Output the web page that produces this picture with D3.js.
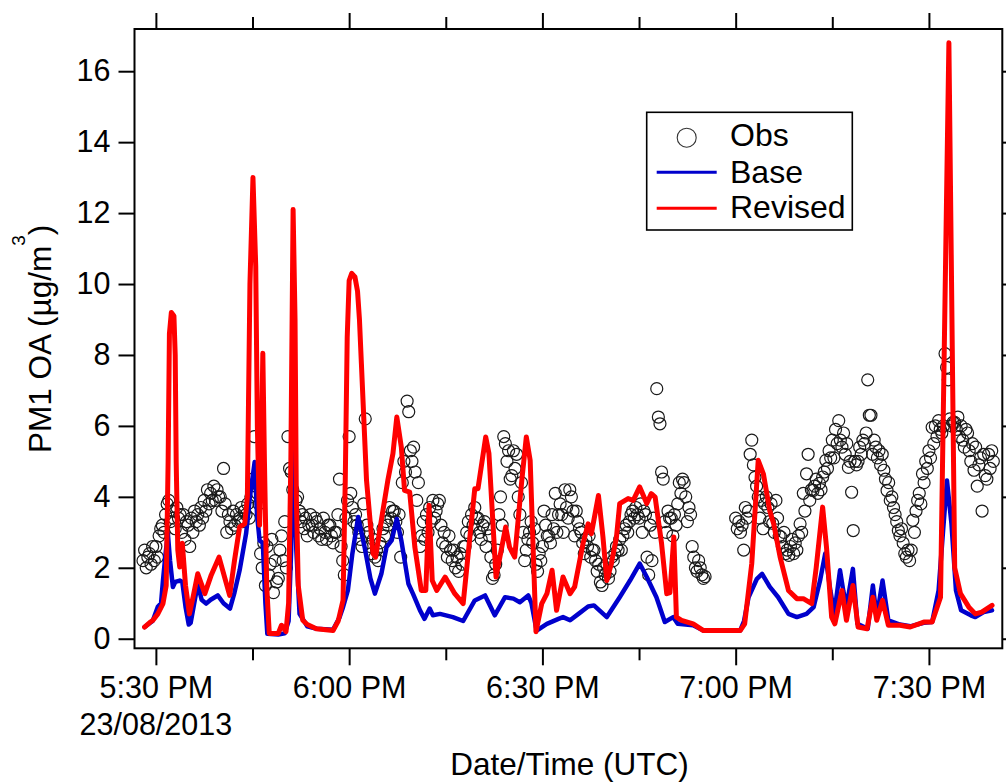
<!DOCTYPE html>
<html><head><meta charset="utf-8">
<script src="https://cdn.jsdelivr.net/npm/d3@7"></script>
<style>
body{margin:0;background:#fff}
svg{display:block}
text{font-family:"Liberation Sans",Arial,sans-serif;fill:#000}
</style>
</head><body>
<svg id="chart" width="1006" height="784"></svg>
<script>
// ---------------- DATA ----------------
// time reference: minutes after 17:30 UTC on 23/08/2013
const refTimeUTC = Date.UTC(2013, 7, 23, 17, 30, 0);
const xDomainMinutes = [-3.32, 131.39];
const yDomain = [-0.27, 17.19];
const yTickValues = [0, 2, 4, 6, 8, 10, 12, 14, 16];
const xMajorTickMinutes = [0, 30, 60, 90, 120];
const xMinorTickMinutes = [15, 45, 75, 105];
const firstTickDateLabel = "23/08/2013";
const seriesNames = ["Obs", "Base", "Revised"];

// observations: one value every 15 s starting at 17:28:00 UTC
const obsStartMinute = -2;
const obsStepSeconds = 15;
const obsValues = [
2.2,2.5,2.0,2.3, 2.4,2.1,2.6,2.2, 2.6,2.3,2.9,3.1, 3.2,3.0,3.5,3.8, 3.9,3.3,3.6,3.4,
3.1,3.7,3.4,3.5, 3.0,3.5,2.8,3.3, 3.2,2.6,3.4,3.0, 3.6,3.3,3.5,3.2, 3.7,3.4,3.9,3.6,
4.2,3.8,4.1,3.9, 4.3,3.9,4.2,4.0, 4.0,3.6,4.8,3.8, 3.0,3.5,3.3,3.1, 3.6,3.2,3.5,3.3,
3.4,3.7,3.3,3.6, 3.5,3.8,3.4,4.0, 4.5,5.7,4.4,4.1, 3.8,2.4,2.0,2.7, 1.5,2.6,1.8,2.1,
2.8,1.3,2.2,1.6, 1.7,2.5,2.9,2.2, 3.3,2.0,5.7,4.8, 4.7,4.2,3.5,3.9, 4.0,3.6,3.3,3.5,
3.1,3.4,2.9,3.2, 3.5,3.2,3.0,3.4, 3.3,2.9,3.1,2.8, 3.4,3.0,2.8,3.2, 3.2,2.9,2.7,3.0,
3.0,3.5,4.5,2.6, 2.2,1.8,3.4,3.9, 5.7,4.1,3.7,3.3, 3.5,3.2,3.0,2.8, 2.6,3.8,6.2,3.2,
3.0,2.6,2.4,2.8, 2.3,2.5,2.2,2.7, 2.6,3.1,2.9,3.3, 3.2,3.7,3.4,3.6, 3.6,3.3,3.0,3.5,
2.3,4.4,5.0,4.7, 6.7,6.4,5.3,5.0, 5.4,4.7,3.9,4.4, 2.6,2.9,3.3,2.8, 3.5,3.0,3.7,3.3,
3.9,3.4,3.6,3.8, 3.9,3.2,2.7,3.0, 2.6,2.3,2.9,2.5, 2.2,2.5,2.0,2.3, 1.9,2.4,2.1,2.6,
2.6,3.0,3.3,2.9, 3.5,3.2,3.7,3.4, 3.4,3.0,2.8,3.2, 3.3,2.6,3.1,2.9, 2.3,1.7,1.8,2.1,
2.5,3.5,4.0,3.2, 5.7,5.5,5.0,5.3, 4.5,4.6,5.3,4.8, 5.2,4.0,3.5,4.4, 3.0,2.2,2.5,2.8,
3.0,3.3,2.7,3.1, 2.1,1.9,2.4,2.2, 2.6,3.6,3.2,2.9, 2.9,2.7,3.5,3.1, 4.1,3.0,3.5,3.8,
3.5,3.0,4.2,3.7, 3.4,4.2,4.0,3.6, 2.9,3.6,3.3,3.1, 3.0,2.7,2.4,2.8, 2.6,2.9,2.3,2.5,
2.5,2.2,1.9,2.1, 1.6,1.5,2.0,1.8, 2.1,1.7,1.9,2.3, 2.2,2.4,2.6,2.5, 2.8,2.5,2.9,3.1,
3.2,3.0,3.3,3.5, 3.6,3.4,3.7,3.5, 3.4,3.8,3.0,3.6, 3.5,2.3,1.8,3.2, 2.2,3.4,3.0,7.05,
6.25,6.06,4.7,4.5, 3.3,3.0,3.6,3.4, 3.4,2.9,3.5,3.2, 3.8,4.4,4.1,4.5, 4.4,4.0,3.3,3.7,
3.5,2.6,2.3,2.0, 1.9,2.2,2.0,1.8, 1.7,1.75,null,null, null,null,null,null, null,null,null,null,
null,null,null,null, null,null,null,null, 3.4,3.1,3.3,3.0, 3.2,2.5,3.7,3.4, 3.6,5.2,5.6,4.9,
4.55,4.3,4.0,3.4, 3.9,3.1,3.8,4.0, 3.7,3.3,3.8,3.25, 3.0,3.9,3.4,2.9, 2.87,2.6,3.0,2.4,
2.5,2.35,2.6,2.8, 2.4,2.7,2.5,2.9, 3.24,3.0,4.1,3.6, 4.65,5.2,3.9,4.2, 4.18,4.3,4.5,4.1,
4.38,4.2,4.56,4.7, 5.03,4.8,5.3,5.1, 5.6,5.1,5.9,5.5, 6.15,5.6,5.4,5.8, 5.2,5.5,4.83,5.0,
4.13,3.05,5.0,4.9, 5.0,5.4,5.2,5.6, 5.5,5.8,7.3,6.3, 6.3,5.2,5.6,5.4, 5.1,5.3,4.9,5.2,
4.75,4.5,4.18,4.4, 3.9,4.0,3.7,3.5, 3.3,3.05,2.9,3.1, 2.7,2.4,2.3,2.5, 2.2,2.5,3.34,3.0,
3.6,3.9,4.1,3.8, 4.65,4.4,5.0,4.8, 5.3,5.1,5.96,5.5, 6.0,5.7,6.15,5.9, 5.8,6.0,8.04,7.65,
7.3,6.2,6.0,6.1, 6.1,5.9,6.25,5.7, 6.0,5.6,5.4,5.9, 5.8,5.3,5.0,5.5, 4.75,5.4,4.3,4.9,
5.1,3.6,5.2,4.6, 4.5,5.2,4.8,5.3, 5.0
];

const baseMinutes = [-1.76,-0.5,0.3,0.8,1.1,1.5,1.86,2.2,2.64,3.0,3.7,4.1,4.6,5.1,5.4,6.5,7.1,7.8,8.5,9.6,10.5,11.5,12.2,13.0,14.0,14.6,15.33,15.7,16.1,16.6,17.0,17.3,19.0,20.0,20.6,21.0,21.4,21.8,22.3,23.5,25.0,27.5,28.5,29.05,29.8,30.5,31.4,32.4,33.3,34.0,35.0,35.8,36.6,37.4,38.1,39.2,39.9,41.0,41.7,42.5,43.0,44.1,46.1,47.7,49.5,51.1,52.6,54.2,55.5,56.5,57.8,58.3,59.1,60.7,62.5,63.2,64.3,65.6,67.1,68.0,70.0,72.0,73.6,75.1,76.2,77.7,79.0,80.3,81.0,83.4,85.0,90.7,91.3,92.0,93.3,94.1,95.3,96.6,98.2,99.5,101.0,102.1,103.1,103.9,104.7,105.3,106.2,106.7,107.2,108.2,108.9,110.5,111.3,111.9,112.8,113.7,115.5,117.1,119.2,120.5,121.5,122.2,122.8,123.5,124.2,125.0,126.5,127.2,128.5,129.8];
const baseValues = [0.33,0.5,0.9,1.0,1.64,2.4,2.96,2.2,1.46,1.6,1.64,1.6,0.9,0.4,0.45,1.55,1.1,0.99,1.1,1.22,1.0,0.85,1.3,1.93,2.96,4.0,4.98,3.5,2.77,2.7,1.0,0.14,0.12,0.15,0.5,2.5,5.59,2.5,0.7,0.35,0.28,0.25,0.6,0.89,1.36,2.4,3.43,2.58,1.7,1.27,1.83,2.58,2.77,3.38,2.77,1.55,1.27,0.8,0.56,0.85,0.66,0.7,0.61,0.5,1.08,1.22,0.66,1.17,1.13,1.03,1.22,1.0,0.23,0.42,0.56,0.61,0.52,0.7,0.91,0.94,0.61,1.17,1.64,2.12,1.74,1.17,0.47,0.61,0.42,0.38,0.23,0.23,0.5,1.17,1.69,1.83,1.46,1.17,0.7,0.61,0.7,0.89,1.64,2.4,1.36,0.7,1.93,1.36,0.9,1.97,0.42,0.28,1.5,0.6,1.64,0.52,0.4,0.35,0.45,0.47,1.36,3.05,4.46,3.24,1.36,0.8,0.66,0.61,0.75,0.8];

const revisedMinutes = [-1.76,-1.0,-0.46,0.3,1.1,1.6,1.9,2.1,2.4,2.8,3.0,3.15,3.4,3.7,4.1,4.6,5.2,5.8,6.5,7.6,8.6,9.8,11.45,12.2,13.0,13.8,14.2,14.6,15.07,15.5,15.75,16.1,16.35,16.6,16.85,17.2,17.6,19.0,19.5,20.2,20.6,20.95,21.3,21.6,21.8,22.1,22.8,23.5,24.9,27.5,28.3,29.05,29.4,29.7,30.0,30.4,30.9,31.3,31.6,31.9,32.7,33.7,34.1,35.0,36.0,36.8,37.4,38.1,38.6,39.4,40.2,41.2,41.9,42.4,42.9,43.6,44.9,46.4,47.7,49.5,50.0,51.2,51.7,52.8,54.3,54.9,55.7,56.8,57.5,58.1,59.0,59.9,60.7,61.5,62.2,63.2,64.3,65.0,66.3,67.1,67.6,68.7,69.4,70.0,70.7,71.5,72.0,73.3,74.1,75.1,76.2,76.9,77.5,78.5,79.3,79.8,80.4,80.8,81.6,83.4,85.0,90.7,91.4,92.5,93.5,94.3,95.3,95.9,96.9,98.2,99.5,100.5,101.8,102.5,103.5,104.1,104.9,105.4,106.5,107.2,108.2,109.0,110.4,111.3,111.9,112.8,113.7,115.5,117.1,119.2,120.5,121.8,123.1,124.0,124.9,126.2,127.2,128.2,129.8];
const revisedValues = [0.33,0.45,0.52,0.7,0.99,1.5,5.0,8.6,9.2,9.1,8.0,5.0,2.5,2.02,2.69,1.5,0.7,1.2,1.83,1.27,1.8,2.3,1.22,2.2,3.15,3.24,4.0,10.0,13.0,10.5,6.0,3.2,5.0,8.05,5.0,1.5,0.15,0.15,0.38,0.2,1.0,5.0,12.1,9.0,4.0,1.5,0.52,0.4,0.28,0.23,0.5,1.08,4.5,8.5,10.1,10.3,10.2,9.8,9.0,7.76,4.46,2.4,2.3,3.34,4.46,5.22,6.25,5.4,4.18,4.13,2.58,1.36,1.36,3.76,1.64,1.36,1.74,1.27,0.99,4.23,4.23,5.69,5.22,1.74,3.15,2.58,2.3,4.46,5.69,5.03,0.2,0.99,1.27,1.93,0.8,1.74,1.27,1.46,2.68,3.24,2.96,4.04,2.87,1.64,2.12,2.87,3.81,3.95,3.9,4.28,3.81,4.09,3.99,2.68,1.27,1.3,2.87,0.61,0.52,0.42,0.23,0.23,0.42,2.12,5.03,4.65,3.6,3.24,2.3,1.36,1.13,1.13,0.99,2.0,3.71,2.58,0.61,0.42,1.36,0.52,1.5,0.33,0.28,1.17,0.52,1.08,0.38,0.38,0.33,0.47,0.47,1.17,16.8,2.0,1.27,0.89,0.7,0.75,0.94];

// ---------------- CHART ----------------
const toDate = m => new Date(refTimeUTC + m * 60000);
const P = {left: 134.5, right: 1002.3, top: 29, bottom: 648.3};
const TICK_FONT = 30.5, TITLE_FONT = 31.5, LEGEND_FONT = 32;

const svg = d3.select("#chart");
const x = d3.scaleUtc().domain(xDomainMinutes.map(toDate)).range([P.left, P.right]);
const y = d3.scaleLinear().domain(yDomain).range([P.bottom, P.top]);

svg.append("defs").append("clipPath").attr("id", "plotclip")
  .append("rect").attr("x", P.left).attr("y", P.top)
  .attr("width", P.right - P.left).attr("height", P.bottom - P.top);

const obs = obsValues.map((v, i) => ({t: toDate(obsStartMinute + i * obsStepSeconds / 60), v}))
  .filter(d => d.v !== null);
const base = baseMinutes.map((m, i) => ({t: toDate(m), v: baseValues[i]}));
const revised = revisedMinutes.map((m, i) => ({t: toDate(m), v: revisedValues[i]}));

const plot = svg.append("g").attr("clip-path", "url(#plotclip)");
plot.append("g").selectAll("circle").data(obs).join("circle")
  .attr("cx", d => x(d.t)).attr("cy", d => y(d.v)).attr("r", 6)
  .attr("fill", "none").attr("stroke", "#1a1a1a").attr("stroke-width", 1.2);

const line = d3.line().x(d => x(d.t)).y(d => y(d.v));
plot.append("path").datum(base).attr("d", line)
  .attr("fill", "none").attr("stroke", "#0000cc").attr("stroke-width", 4.5)
  .attr("stroke-linejoin", "round").attr("stroke-linecap", "round");
plot.append("path").datum(revised).attr("d", line)
  .attr("fill", "none").attr("stroke", "#ff0000").attr("stroke-width", 5)
  .attr("stroke-linejoin", "round").attr("stroke-linecap", "round");

// axes
const fmt = d3.utcFormat("%-I:%M %p");
const majorDates = xMajorTickMinutes.map(toDate);
const minorDates = xMinorTickMinutes.map(toDate);

function styleAxis(g) {
  g.select(".domain").remove();
  g.selectAll(".tick line").attr("stroke", "#000").attr("stroke-width", 2);
  g.selectAll(".tick text").attr("font-size", TICK_FONT).attr("fill", "#000")
    .attr("font-family", '"Liberation Sans", Arial, sans-serif');
}

svg.append("g").attr("transform", `translate(0,${P.bottom})`)
  .call(d3.axisBottom(x).tickValues(majorDates).tickSize(17).tickPadding(11).tickFormat(fmt))
  .call(styleAxis);
svg.append("g").attr("transform", `translate(0,${P.bottom})`)
  .call(d3.axisBottom(x).tickValues(minorDates).tickSize(12).tickFormat(""))
  .call(styleAxis);
svg.append("g").attr("transform", `translate(0,${P.top})`)
  .call(d3.axisTop(x).tickValues(majorDates).tickSize(16).tickFormat(""))
  .call(styleAxis);
svg.append("g").attr("transform", `translate(0,${P.top})`)
  .call(d3.axisTop(x).tickValues(minorDates).tickSize(12).tickFormat(""))
  .call(styleAxis);
svg.append("g").attr("transform", `translate(${P.left},0)`)
  .call(d3.axisLeft(y).tickValues(yTickValues).tickSize(16).tickPadding(8).tickFormat(d3.format("d")))
  .call(styleAxis);
svg.append("g").attr("transform", `translate(${P.right},0)`)
  .call(d3.axisRight(y).tickValues(yTickValues).tickSize(16).tickFormat(""))
  .call(styleAxis);

// date line under first tick
svg.append("text").attr("x", x(majorDates[0])).attr("y", 735)
  .attr("text-anchor", "middle").attr("font-size", TICK_FONT).text(firstTickDateLabel);

// frame
svg.append("rect").attr("x", P.left).attr("y", P.top)
  .attr("width", P.right - P.left).attr("height", P.bottom - P.top)
  .attr("fill", "none").attr("stroke", "#000").attr("stroke-width", 2);

// axis titles
svg.append("text").attr("x", 569.5).attr("y", 775).attr("text-anchor", "middle")
  .attr("font-size", TITLE_FONT).text("Date/Time (UTC)");
const yt = svg.append("text").attr("transform", "translate(51,453) rotate(-90)")
  .attr("font-size", TITLE_FONT);
yt.append("tspan").text("PM1 OA (µg/m");
yt.append("tspan").attr("font-size", 19).attr("dy", -26).text("3");
yt.append("tspan").attr("dy", 26).text(")");

// legend
const lg = svg.append("g");
lg.append("rect").attr("x", 646.7).attr("y", 112.3).attr("width", 205.6).attr("height", 117.7)
  .attr("fill", "#fff").attr("stroke", "#000").attr("stroke-width", 1.6);
lg.append("circle").attr("cx", 686.7).attr("cy", 137.7).attr("r", 9.5)
  .attr("fill", "none").attr("stroke", "#333").attr("stroke-width", 1.1);
lg.append("line").attr("x1", 656.7).attr("x2", 716.7).attr("y1", 172.3).attr("y2", 172.3)
  .attr("stroke", "#0000cc").attr("stroke-width", 3);
lg.append("line").attr("x1", 656.7).attr("x2", 716.7).attr("y1", 208.3).attr("y2", 208.3)
  .attr("stroke", "#ff0000").attr("stroke-width", 3);
[146, 182.5, 218].forEach((yy, i) => {
  lg.append("text").attr("x", 730).attr("y", yy).attr("font-size", LEGEND_FONT).text(seriesNames[i]);
});
</script>
</body></html>
